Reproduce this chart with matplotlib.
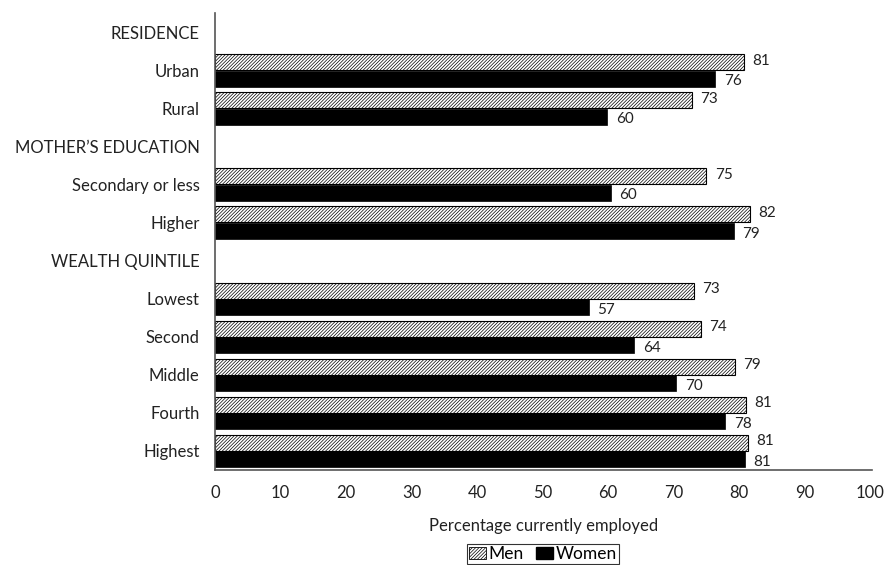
import matplotlib
matplotlib.use("Agg")
import matplotlib.pyplot as plt
from matplotlib.patches import Patch
import numpy as np

plt.rcParams['font.family'] = ['Lato', 'DejaVu Sans']
plt.rcParams['hatch.linewidth'] = 0.5
plt.rcParams['hatch.color'] = '#333333'

categories = ["RESIDENCE", "Urban", "Rural", "MOTHER\u2019S EDUCATION", "Secondary or less",
              "Higher", "WEALTH QUINTILE", "Lowest", "Second", "Middle", "Fourth", "Highest"]
men = [None, 80.7, 72.8, None, 75.0, 81.7, None, 73.1, 74.2, 79.4, 81.1, 81.4]
women = [None, 76.4, 59.9, None, 60.4, 79.2, None, 57.1, 64.0, 70.4, 77.9, 80.9]
men_labels = ["", "81", "73", "", "75", "82", "", "73", "74", "79", "81", "81"]
women_labels = ["", "76", "60", "", "60", "79", "", "57", "64", "70", "78", "81"]

fig = plt.figure(figsize=(8.86, 5.65), dpi=100)
ax = fig.add_axes([215/886, 1 - 470/565, (872 - 215)/886, (470 - 13)/565])

y = np.arange(len(categories))
h = 0.42
for i in range(len(categories)):
    if men[i] is None:
        continue
    ax.barh(y[i] - h/2, men[i], height=h, color='white', edgecolor='black',
            hatch='//////////', linewidth=0.8)
    ax.barh(y[i] + h/2 + 0.01, women[i], height=h, color='black', edgecolor='black', linewidth=0.5)
    ax.text(men[i] + 1.3, y[i] - h/2 - 0.04, men_labels[i], va='center', ha='left', fontsize=11, color='#222222')
    ax.text(women[i] + 1.3, y[i] + h/2 + 0.08, women_labels[i], va='center', ha='left', fontsize=11, color='#222222')

ax.set_ylim(len(categories) - 0.5, -0.5)
ax.set_xlim(0, 100.3)
ax.set_yticks(y)
ax.set_yticklabels(categories, fontsize=12, color='#222222')
ax.set_xticks(np.arange(0, 101, 10))
ax.tick_params(axis='both', length=0, colors='#222222')
ax.tick_params(axis='x', pad=11, labelsize=12)
ax.tick_params(axis='y', pad=11)
for s in ['top', 'right']:
    ax.spines[s].set_visible(False)
ax.spines['left'].set_color('#555555')
ax.spines['bottom'].set_color('#555555')
ax.spines['left'].set_linewidth(1.2)
ax.spines['bottom'].set_linewidth(1.2)
ax.set_xlabel("Percentage currently employed", fontsize=12, color='#222222', labelpad=12)

handles = [Patch(facecolor='white', edgecolor='black', hatch='//////////', linewidth=0.6),
           Patch(facecolor='black', edgecolor='black')]
leg = fig.legend(handles, ["Men", "Women"], loc='lower center', bbox_to_anchor=(543/886, 0.0),
                 ncol=2, frameon=True, fancybox=False, edgecolor='black', fontsize=12.5,
                 handlelength=1.0, handleheight=0.75, handletextpad=0.15, columnspacing=0.7,
                 borderpad=0.12, borderaxespad=0.05)
leg.get_frame().set_linewidth(0.8)

fig.savefig("out.png", dpi=100)
